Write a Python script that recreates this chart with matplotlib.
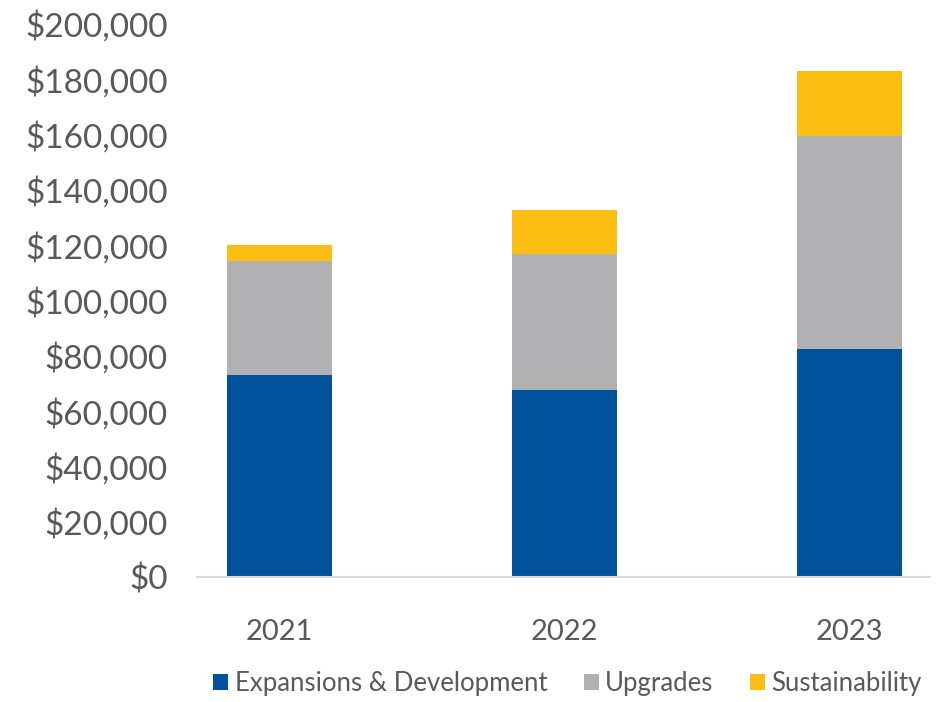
import numpy as np
import matplotlib.pyplot as plt
from matplotlib.ticker import FuncFormatter

years = ["2021", "2022", "2023"]
expansions = [73000, 67700, 82500]
upgrades = [41300, 49200, 77000]
sustainability = [5800, 15800, 23500]

colors = ["#00529B", "#B1B1B3", "#FDBE14"]
labels = ["Expansions & Development", "Upgrades", "Sustainability"]

plt.rcParams['font.family'] = ['Lato', 'DejaVu Sans']

fig = plt.figure(figsize=(9.38, 7.02), dpi=100)
ax = fig.add_axes([0.21, 0.178, 0.781, 0.788])

x = np.arange(len(years))
w = 0.37
b1 = ax.bar(x, expansions, w, color=colors[0], label=labels[0])
bottom2 = np.array(expansions)
b2 = ax.bar(x, upgrades, w, bottom=bottom2, color=colors[1], label=labels[1])
bottom3 = bottom2 + np.array(upgrades)
b3 = ax.bar(x, sustainability, w, bottom=bottom3, color=colors[2], label=labels[2])

ax.set_ylim(0, 200000)
ax.set_xlim(-0.29, 2.28)
ax.set_yticks(np.arange(0, 200001, 20000))
ax.yaxis.set_major_formatter(FuncFormatter(lambda v, p: "${:,.0f}".format(v)))
ax.set_xticks(x)
ax.set_xticklabels(years)
ax.tick_params(axis='y', length=0, labelsize=24, labelcolor="#595959", pad=21)
ax.tick_params(axis='x', length=0, labelsize=21, labelcolor="#595959", pad=30)

for s in ["top", "right", "left"]:
    ax.spines[s].set_visible(False)
ax.spines["bottom"].set_color("#D9D9D9")
ax.spines["bottom"].set_linewidth(1.5)

leg = fig.legend(handles=[b1, b2, b3], loc="center", bbox_to_anchor=(0.605, 0.026),
                 ncol=3, frameon=False, fontsize=18.5, handlelength=0.6, handleheight=0.6,
                 handletextpad=0.25, columnspacing=1.4, labelcolor="#595959")

fig.savefig("out.png", dpi=100)
